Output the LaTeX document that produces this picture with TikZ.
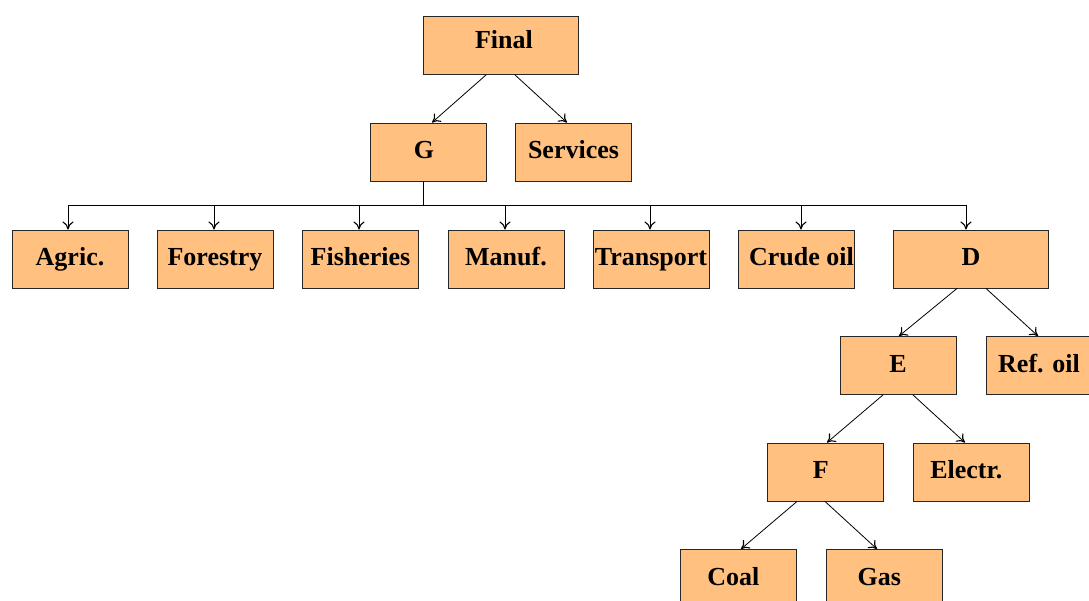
\documentclass[tikz,border=0pt]{standalone}
\usepackage{fontspec}
\setmainfont{Liberation Serif}
\usetikzlibrary{calc,arrows.meta}
\definecolor{boxfill}{RGB}{255,192,128}
\tikzset{
  box/.style={draw=black!85, line width=0.9pt, fill=boxfill, rectangle, minimum width=116pt, minimum height=58pt, inner sep=0pt, text height=17pt, text depth=3.4pt, font=\bfseries\fontsize{26}{30}\selectfont},
  widebox/.style={box, minimum width=155pt},
  textshift/.style={execute at begin node={\hspace*{#1}}},
  arr/.style={line width=0.8pt, -{To[length=8pt,width=11pt,line width=1.1pt]}}
}
\begin{document}
\begin{tikzpicture}[x=1pt,y=-1pt]
\useasboundingbox (0,0) rectangle (1089,601);
\node[widebox, textshift=7pt, text depth=10.2pt] (final) at (500.5,45.5) {Final};
\node[box, textshift=-8pt] (G) at (428,152) {G};
\node[box] (serv) at (573.5,152) {Services};
\node[box] (agric) at (70,259) {Agric.};
\node[box] (forest) at (215,259) {Forestry};
\node[box] (fish) at (360.5,259) {Fisheries};
\node[box] (manuf) at (506,259) {Manuf.};
\node[box] (trans) at (651,259) {Transport};
\node[box, textshift=10pt] (crude) at (796.5,259) {Crude oil};
\node[widebox] (D) at (971,259) {D};
\node[box] (E) at (898,365.5) {E};
\node[box, textshift=-10pt] (ref) at (1044,365.5) {Ref. oil};
\node[box, textshift=-9.4pt] (F) at (825.5,472) {F};
\node[box, textshift=-9.4pt] (elec) at (971,472) {Electr.};
\node[box, textshift=-9.4pt] (coal) at (738,578.5) {Coal};
\node[box, textshift=-9.4pt] (gas) at (884,578.5) {Gas};

\draw[arr] ($(final.south)+(-14.5,0)$) -- ($(G.north)+(4,0)$);
\draw[arr] ($(final.south)+(14.5,0)$) -- ($(serv.north)+(-6.5,0)$);

\foreach \n/\dx in {agric/-2, forest/-1, fish/-1.5, manuf/-1, trans/-1, crude/4.5, D/-5}{
  \draw[arr] ($(G.south)+(-5,0)$) |- ($(\n.north)+(\dx,-24)$) -- ($(\n.north)+(\dx,0)$);
}

\draw[arr] ($(D.south)+(-14,0)$) -- ($(E.north)+(1,0)$);
\draw[arr] ($(D.south)+(15,0)$) -- ($(ref.north)+(-6,0)$);
\draw[arr] ($(E.south)+(-15,0)$) -- ($(F.north)+(1.5,0)$);
\draw[arr] ($(E.south)+(15,0)$) -- ($(elec.north)+(-6,0)$);
\draw[arr] ($(F.south)+(-28.5,0)$) -- ($(coal.north)+(3,0)$);
\draw[arr] ($(F.south)+(-0.5,0)$) -- ($(gas.north)+(-7,0)$);
\end{tikzpicture}
\end{document}
